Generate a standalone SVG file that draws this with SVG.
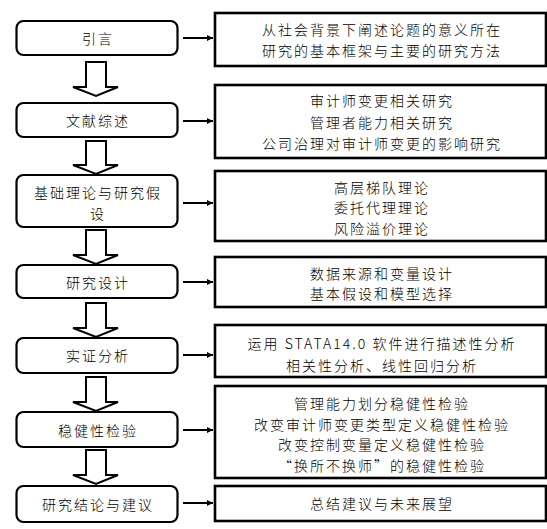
<svg xmlns="http://www.w3.org/2000/svg" width="547" height="529" viewBox="0 0 547 529">
<defs>
<style>
text{font-family:"Noto Sans CJK SC","Noto Sans",sans-serif;font-size:14px;font-weight:300;letter-spacing:2px;fill:#000;text-anchor:middle;dominant-baseline:central}
.step{fill:#fff;stroke:#000;stroke-width:2.2}
.box{fill:#fff;stroke:#000;stroke-width:2.6}
.flow{fill:#fff;stroke:#000;stroke-width:2}
.link{stroke:#000;stroke-width:2;fill:none}
</style>
<marker id="ah" viewBox="0 0 6 6" refX="6" refY="3" markerWidth="6" markerHeight="6" markerUnits="userSpaceOnUse" orient="auto">
<path d="M0,0 L6,3 L0,6 Z" fill="#000"/>
</marker>
</defs>
<rect width="547" height="529" fill="#fff"/>

<g id="connectors">
<path class="flow" d="M86,62 H106 V87 H118 L96,96 L73,87 H86 Z"/>
<path class="flow" d="M86,141 H106 V165 H118 L96,174 L73,165 H86 Z"/>
<path class="flow" d="M86,230 H106 V255 H118 L96,264 L73,255 H86 Z"/>
<path class="flow" d="M86,303 H106 V328 H118 L96,337 L73,328 H86 Z"/>
<path class="flow" d="M86,377 H106 V402 H118 L96,411 L73,402 H86 Z"/>
<path class="flow" d="M86,450 H106 V475 H118 L96,484 L73,475 H86 Z"/>
<line class="link" x1="183" y1="38" x2="213" y2="38" marker-end="url(#ah)"/>
<line class="link" x1="183" y1="121" x2="213" y2="121" marker-end="url(#ah)"/>
<line class="link" x1="183" y1="203" x2="213" y2="203" marker-end="url(#ah)"/>
<line class="link" x1="183" y1="282" x2="213" y2="282" marker-end="url(#ah)"/>
<line class="link" x1="183" y1="355" x2="213" y2="355" marker-end="url(#ah)"/>
<line class="link" x1="183" y1="430" x2="213" y2="430" marker-end="url(#ah)"/>
<line class="link" x1="183" y1="503" x2="213" y2="503" marker-end="url(#ah)"/>
</g>

<g id="n1">
<rect class="step" x="16.5" y="21" width="161" height="34" rx="7"/>
<text x="98" y="38">引言</text>
</g>
<g id="n2">
<rect class="step" x="16.5" y="103" width="161" height="34" rx="7"/>
<text x="98" y="120">文献综述</text>
</g>
<g id="n3">
<rect class="step" x="16.5" y="175" width="161" height="52" rx="7"/>
<text x="98" y="192">基础理论与研究假</text>
<text x="98" y="213">设</text>
</g>
<g id="n4">
<rect class="step" x="16.5" y="265" width="161" height="33" rx="7"/>
<text x="98" y="282">研究设计</text>
</g>
<g id="n5">
<rect class="step" x="16.5" y="338" width="161" height="35" rx="7"/>
<text x="98" y="355">实证分析</text>
</g>
<g id="n6">
<rect class="step" x="16.5" y="412" width="161" height="35" rx="7"/>
<text x="98" y="430">稳健性检验</text>
</g>
<g id="n7">
<rect class="step" x="16.5" y="486" width="161" height="36" rx="7"/>
<text x="98" y="504">研究结论与建议</text>
</g>

<g id="d1">
<rect class="box" x="215" y="13" width="331" height="53"/>
<text x="382" y="29">从社会背景下阐述论题的意义所在</text>
<text x="382" y="50">研究的基本框架与主要的研究方法</text>
</g>
<g id="d2">
<rect class="box" x="215" y="85" width="331" height="73"/>
<text x="382" y="100">审计师变更相关研究</text>
<text x="382" y="122">管理者能力相关研究</text>
<text x="382" y="143">公司治理对审计师变更的影响研究</text>
</g>
<g id="d3">
<rect class="box" x="215" y="171" width="331" height="70"/>
<text x="382" y="187">高层梯队理论</text>
<text x="382" y="207">委托代理理论</text>
<text x="382" y="228">风险溢价理论</text>
</g>
<g id="d4">
<rect class="box" x="215" y="257" width="331" height="50"/>
<text x="382" y="273">数据来源和变量设计</text>
<text x="382" y="293">基本假设和模型选择</text>
</g>
<g id="d5">
<rect class="box" x="215" y="325" width="331" height="52"/>
<text x="382" y="343">运用 STATA14.0 软件进行描述性分析</text>
<text x="382" y="365">相关性分析、线性回归分析</text>
</g>
<g id="d6">
<rect class="box" x="215" y="386" width="331" height="92"/>
<text x="382" y="403">管理能力划分稳健性检验</text>
<text x="382" y="424">改变审计师变更类型定义稳健性检验</text>
<text x="382" y="444">改变控制变量定义稳健性检验</text>
<text x="382" y="465">“换所不换师”的稳健性检验</text>
</g>
<g id="d7">
<rect class="box" x="215" y="486" width="331" height="35"/>
<text x="382" y="503">总结建议与未来展望</text>
</g>
</svg>
